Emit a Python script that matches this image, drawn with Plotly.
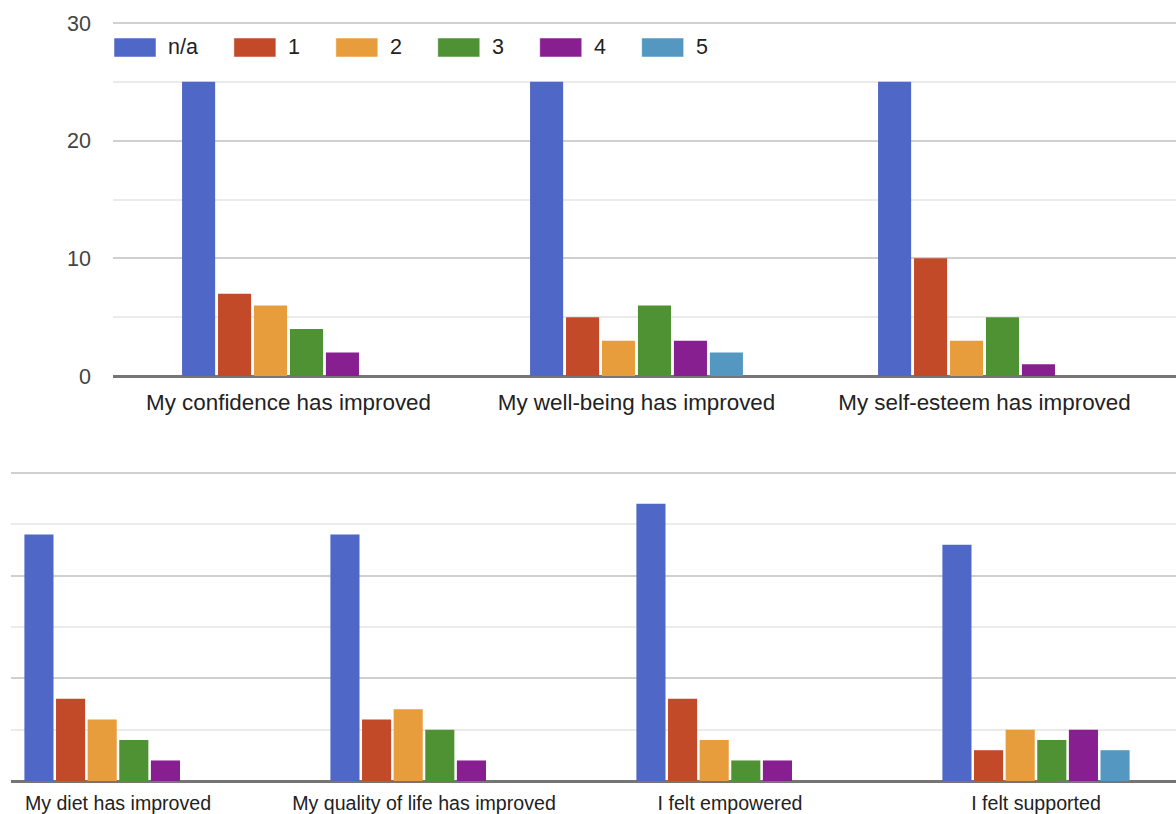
import plotly.graph_objects as go

# ---------------- data ----------------
series_names = ["n/a", "1", "2", "3", "4", "5"]
series_colors = ["#4f67c7", "#c24a28", "#e89d3c", "#4e9234", "#871f91", "#5497c1"]

top_categories = ["My confidence has improved", "My well-being has improved",
                  "My self-esteem has improved"]
top_na = [25, 25, 25]
top_1 = [7, 5, 10]
top_2 = [6, 3, 3]
top_3 = [4, 6, 5]
top_4 = [2, 3, 1]
top_5 = [0, 2, 0]

bottom_categories = ["My diet has improved", "My quality of life has improved",
                     "I felt empowered", "I felt supported"]
bottom_na = [24, 24, 27, 23]
bottom_1 = [8, 6, 8, 3]
bottom_2 = [6, 7, 4, 5]
bottom_3 = [4, 5, 2, 4]
bottom_4 = [2, 2, 2, 5]
bottom_5 = [0, 0, 0, 3]

y_ticks = [0, 10, 20, 30]

top_series = [top_na, top_1, top_2, top_3, top_4, top_5]
bottom_series = [bottom_na, bottom_1, bottom_2, bottom_3, bottom_4, bottom_5]

# ---------------- figure ----------------
W, H = 1176, 814
FONT = "Arial, 'Liberation Sans', sans-serif"

fig = go.Figure()
for name, color, vals in zip(series_names, series_colors, top_series):
    fig.add_trace(go.Bar(x=top_categories, y=vals, name=name, marker_color=color,
                         marker_line=dict(width=0),
                         xaxis="x", yaxis="y", showlegend=False))
for name, color, vals in zip(series_names, series_colors, bottom_series):
    fig.add_trace(go.Bar(x=bottom_categories, y=vals, name=name, marker_color=color,
                         marker_line=dict(width=0),
                         xaxis="x2", yaxis="y2", showlegend=False))

def px_x(p):
    return p / W

def px_y(p):
    return (H - p) / H

YMAX = 30
EXTRA = 0.1  # tiny headroom so the top gridline is drawn

# top chart geometry (pixels)
top_left, top_base, top_top = 113, 376, 23
top_scale = (top_base - top_top) / YMAX
top_step = 348.0
top_c0 = 288.5
# bottom chart geometry
bot_left, bot_base, bot_top = 11, 781, 473
bot_scale = (bot_base - bot_top) / YMAX
bot_step = 306.0
bot_c0 = 118.0

grid_major = "#d0d0d0"
grid_minor = "#ebebeb"

fig.update_layout(
    template="none",
    width=W, height=H,
    margin=dict(l=0, r=0, t=0, b=0, pad=0),
    paper_bgcolor="white", plot_bgcolor="white",
    barmode="group", bargap=0.38, bargroupgap=0.08,
    font=dict(family=FONT, color="#222222"),
    xaxis=dict(domain=[px_x(top_left), 1], anchor="y", type="category", automargin=False,
               range=[(top_left - top_c0) / top_step, (W - top_c0) / top_step],
               showgrid=False, ticks="", showline=False, zeroline=False,
               tickfont=dict(size=22.4, color="#222222"), ticklabelstandoff=11),
    yaxis=dict(domain=[px_y(top_base), px_y(top_top - EXTRA * top_scale)], anchor="x",
               automargin=False,
               range=[0, YMAX + EXTRA], tickvals=y_ticks, ticktext=[str(v) for v in y_ticks],
               showgrid=True, gridcolor=grid_major, gridwidth=1.5,
               minor=dict(dtick=5, showgrid=True, gridcolor=grid_minor, gridwidth=1.5),
               zeroline=True, zerolinecolor="#757575", zerolinewidth=2.5,
               showline=False, ticks="",
               tickfont=dict(size=21.5, color="#444444"), ticklabelstandoff=21),
    xaxis2=dict(domain=[px_x(bot_left), 1], anchor="y2", type="category", automargin=False,
                range=[(bot_left - bot_c0) / bot_step, (W - bot_c0) / bot_step],
                showgrid=False, ticks="", showline=False, zeroline=False,
                tickfont=dict(size=19.6, color="#222222"), ticklabelstandoff=8),
    yaxis2=dict(domain=[px_y(bot_base), px_y(bot_top - EXTRA * bot_scale)], anchor="x2",
                automargin=False,
                range=[0, YMAX + EXTRA], tickvals=y_ticks, showticklabels=False,
                showgrid=True, gridcolor=grid_major, gridwidth=1.5,
                minor=dict(dtick=5, showgrid=True, gridcolor=grid_minor, gridwidth=1.5),
                zeroline=True, zerolinecolor="#757575", zerolinewidth=2.5,
                showline=False, ticks=""),
)

# ---------------- custom legend (wide swatches like the original) ----------------
leg_font = 21.5
sw_w, sw_h = 42, 19
x = 114
y_mid = 47.5
char_w = {"n": 0.556, "/": 0.278, "a": 0.556}
for name, color in zip(series_names, series_colors):
    fig.add_shape(type="rect", xref="paper", yref="paper",
                  x0=px_x(x), x1=px_x(x + sw_w),
                  y0=px_y(y_mid + sw_h / 2), y1=px_y(y_mid - sw_h / 2),
                  fillcolor=color, line=dict(width=1, color="rgba(255,255,255,0.5)"))
    fig.add_annotation(xref="paper", yref="paper", x=px_x(x + sw_w + 10), y=px_y(y_mid),
                       text=name, showarrow=False, xanchor="left", yanchor="middle",
                       font=dict(size=leg_font, color="#222222", family=FONT))
    tw = sum(char_w.get(c, 0.556) for c in name) * leg_font
    x = x + sw_w + 10 + tw + 38

fig.write_html("out.html")
